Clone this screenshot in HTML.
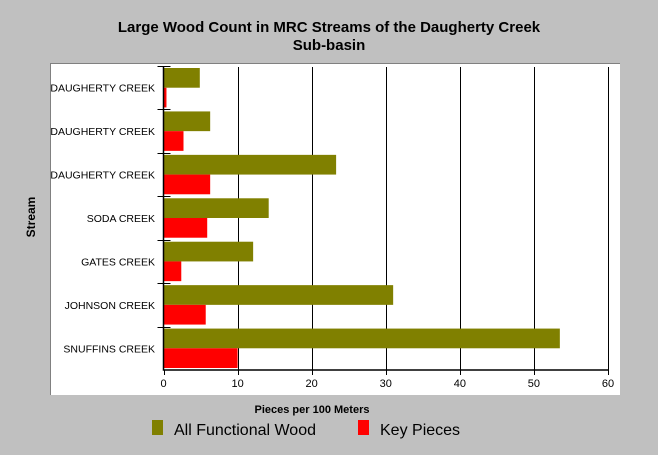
<!DOCTYPE html>
<html><head><meta charset="utf-8"><style>
body{margin:0;background:#c0c0c0;font-family:"Liberation Sans",Arial,sans-serif}
svg{display:block}
</style></head><body>
<svg width="658" height="455" xmlns="http://www.w3.org/2000/svg">
<rect x="0" y="0" width="658" height="455" fill="#c0c0c0"/>
<text x="329" y="32" text-anchor="middle" font-size="15" font-weight="bold">Large Wood Count in MRC Streams of the Daugherty Creek</text>
<text x="329" y="50" text-anchor="middle" font-size="15" font-weight="bold">Sub-basin</text>
<rect x="50" y="63" width="570" height="332" fill="#fff"/>
<path d="M50.5 395V63.5H620" stroke="#808080" fill="none"/>
<g id="grid"></g>
<g id="bars"></g>
<g id="axes"></g>
<text transform="translate(35,217) rotate(-90)" text-anchor="middle" font-size="12" font-weight="bold">Stream</text>
<text x="312" y="413" text-anchor="middle" font-size="11" font-weight="bold">Pieces per 100 Meters</text>
<g>
<rect x="152" y="420" width="11" height="15" fill="#808000"/>
<text x="174" y="435" font-size="16">All Functional Wood</text>
<rect x="358" y="420" width="11" height="15" fill="#ff0000"/>
<text x="380" y="435" font-size="16">Key Pieces</text>
</g>
</svg>
<script>
const categories=["DAUGHERTY CREEK","DAUGHERTY CREEK","DAUGHERTY CREEK","SODA CREEK","GATES CREEK","JOHNSON CREEK","SNUFFINS CREEK"];
const allFunctional=[4.9,6.3,23.3,14.2,12.1,31.0,53.5];
const keyPieces=[0.4,2.7,6.3,5.9,2.4,5.7,10.0];
const xTicks=[0,10,20,30,40,50,60];
const NS="http://www.w3.org/2000/svg";
const X0=163.5,X1=608,TOP=66,BOT=370,XMAX=60;
const x=v=>X0+(X1-X0)*v/XMAX;
const band=(BOT-TOP)/categories.length;
function mk(tag,attrs,parent){const e=document.createElementNS(NS,tag);for(const k in attrs)e.setAttribute(k,attrs[k]);parent.appendChild(e);return e;}
const grid=document.getElementById('grid'),bars=document.getElementById('bars'),axes=document.getElementById('axes');
xTicks.forEach(t=>{
  if(t>0){const g=mk('line',{x1:Math.round(x(t))+0.5,x2:Math.round(x(t))+0.5,y1:TOP+1,y2:BOT,stroke:'#000'},grid);
  
  }
  const tk=mk('line',{x1:Math.round(x(t))+0.5,x2:Math.round(x(t))+0.5,y1:BOT,y2:BOT+5,stroke:'#000'},axes);
  
  
  const lb=mk('text',{x:x(t),y:BOT+17,'text-anchor':'middle','font-size':11},axes);
  lb.textContent=t;
  
  
});
categories.forEach((c,i)=>{
  const y0=TOP+i*band;
  const h=(band-4)/2;
  const b1=mk('rect',{x:X0,y:y0+2,width:x(allFunctional[i])-X0,height:h,fill:'#808000'},bars);
  
  
  const b2=mk('rect',{x:X0,y:y0+2+h,width:x(keyPieces[i])-X0,height:h,fill:'#ff0000'},bars);
  
  
  const tk=mk('line',{x1:X0-6,x2:X0+7,y1:Math.round(y0)+0.5,y2:Math.round(y0)+0.5,stroke:'#000'},axes);
  
  
  const lb=mk('text',{x:155,y:y0+band/2+4,'text-anchor':'end','font-size':10.5},axes);
  lb.textContent=c;
  
  
});
const ax=mk('path',{d:`M${X0} ${TOP}V${BOT}H${X1}`,stroke:'#000',fill:'none','stroke-width':1.5},axes);


</script>
</body></html>
